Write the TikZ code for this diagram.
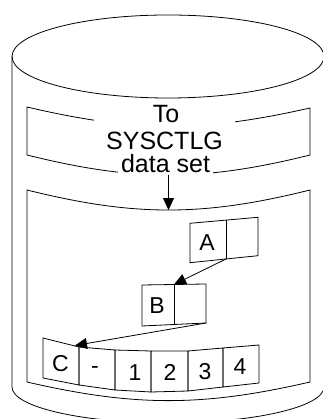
\documentclass[tikz,border=0pt]{standalone}
\usepackage{fontspec}
\setmainfont{Liberation Sans}
\usetikzlibrary{arrows.meta}
\newcommand{\boxfont}{\fontsize{25}{25}\selectfont}
\newcommand{\cellfont}{\fontsize{23}{23}\selectfont}

\begin{document}
\begin{tikzpicture}[x=1pt, y=1pt, line width=0.8pt,
  txt/.style={anchor=base, inner sep=0pt, font=\boxfont},
  lbl/.style={anchor=base, inner sep=0pt, font=\cellfont},
  ptr/.style={-{Triangle[length=12pt, width=11pt]}}]
\useasboundingbox (0,0) rectangle (322,419);

% Draw the cylinder (top ellipse, sides and bottom arc)
\draw (168,362.5) ellipse [x radius=156pt, y radius=41.5pt];
\draw (12,362.5) -- (12,32) arc [start angle=180, end angle=360, x radius=156pt, y radius=36pt] -- (324,362.5);

% Draw the two curved panels inside the cylinder
\draw (27,312) to[bend right=13] (310,311) -- (310,264) to[bend left=14] coordinate[pos=0.5] (panelbot) (27,264) -- cycle;
\draw (27,229) to[bend right=14] coordinate[pos=0.5] (paneltop) (310,229) -- (310,37) to[bend left=13] (27,37) -- cycle;

% Label of the upper panel (white boxes break the curves)
\node[txt, fill=white, text height=33pt, text depth=2pt, inner xsep=12.5pt] (sysctlg) at (164.5,269) {SYSCTLG};
\node[txt] (to) at (166,296) {To};
\node[txt, fill=white, text height=18pt, text depth=4pt, inner xsep=3.5pt] (dataset) at (165.5,246) {data set};

% Draw the arrow into the lower panel
\draw[ptr] (panelbot) -- (paneltop);

% Draw the record A
\draw (190,195.7) -- (258,201.7) -- (258,163.3) -- (190,156.3) -- cycle;
\draw (226,198.9) -- (226,160) coordinate (abot);
\node[lbl] (a) at (207,168.3) {A};

% Draw the record B
\draw (142,134) -- (206,135) -- (206,96) coordinate (bse) -- (142,93) -- cycle;
\draw (174,134.5) coordinate (btop) -- (174,94.5);
\node[lbl] (b) at (157,105) {B};

% Draw the record C with its cells along the arc
\foreach \xl/\tl/\bl/\xr/\tr/\br in {43/81/41/79/72/34, 79/72/34/115/69/29, 115/69/29/151/68/27,
    151/68/27/188/68/28, 188/68/28/223/71/32, 223/71/32/259/74/36}
  \draw (\xl,\tl) -- (\xr,\tr) -- (\xr,\br) -- (\xl,\bl) -- cycle;
\coordinate (cjoin) at (75,73.5);
\foreach \t/\x/\y [count=\i] in {C/60.5/47, -/95/45, 1/135/38, 2/170/38, 3/205/39, 4/240/44}
  \node[lbl] (c-\i) at (\x,\y) {\t};

% Draw the chain pointers
\draw[ptr] (abot) -- (btop);
\draw[ptr] (bse) -- (cjoin);
\end{tikzpicture}
\end{document}
